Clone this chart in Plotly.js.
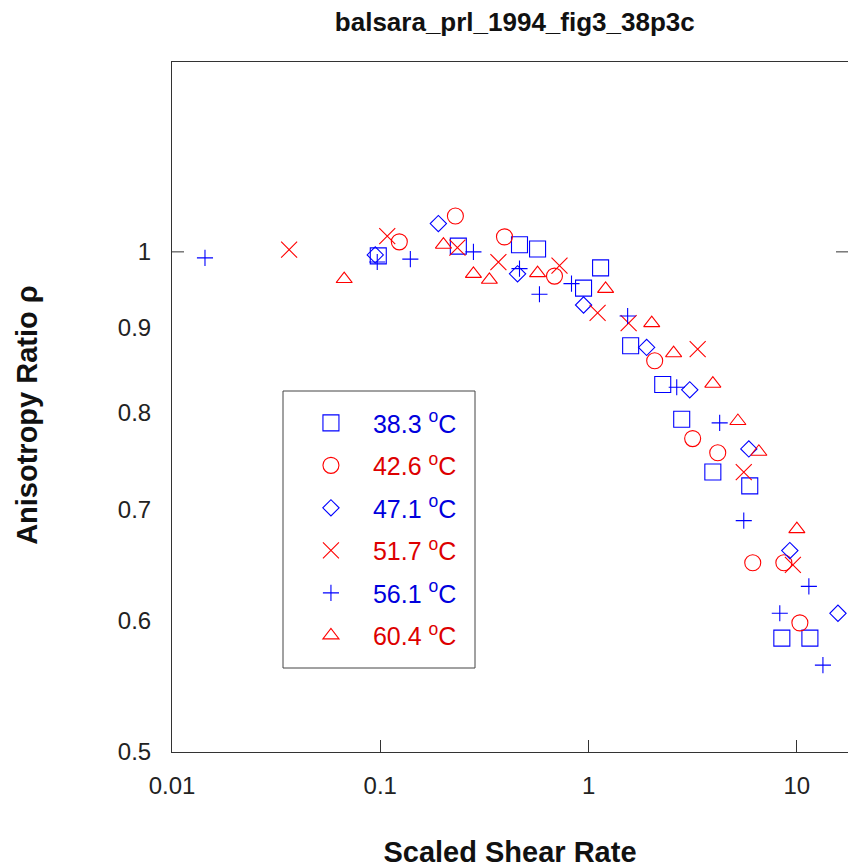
<!DOCTYPE html>
<html>
<head>
<meta charset="utf-8">
<script src="https://cdn.plot.ly/plotly-3.0.1.min.js"></script>
<style>html,body{margin:0;padding:0;background:#fff;}#chart{width:853px;height:868px;}</style>
</head>
<body>
<div id="chart"></div>
<script>
// 38.3 C (squares, blue)
const sqX = [0.0978, 0.237, 0.466, 0.569, 1.142, 0.946, 1.592, 2.27, 2.80, 3.95, 5.94, 8.47, 11.55];
const sqY = [0.9945, 1.008, 1.010, 1.004, 0.978, 0.951, 0.878, 0.832, 0.793, 0.737, 0.723, 0.5855, 0.5855];
// 42.6 C (circles, red)
const ciX = [0.1234, 0.2294, 0.3947, 0.686, 2.077, 3.16, 4.17, 6.14, 8.66, 10.34];
const ciY = [1.014, 1.051, 1.021, 0.967, 0.860, 0.772, 0.757, 0.650, 0.650, 0.598];
// 47.1 C (diamonds, blue)
const diX = [0.0946, 0.190, 0.456, 0.946, 1.90, 3.06, 5.88, 9.25, 15.75];
const diY = [0.9958, 1.040, 0.970, 0.929, 0.876, 0.826, 0.761, 0.661, 0.606];
// 51.7 C (crosses x, red)
const xxX = [0.0365, 0.108, 0.2346, 0.369, 0.725, 1.105, 1.557, 3.34, 5.56, 9.57];
const xxY = [1.003, 1.022, 1.006, 0.986, 0.981, 0.919, 0.906, 0.874, 0.737, 0.648];
// 56.1 C (plus, blue)
const plX = [0.0144, 0.0967, 0.1394, 0.280, 0.466, 0.581, 0.828, 1.54, 2.65, 4.26, 5.56, 11.42, 8.28, 13.34];
const plY = [0.9917, 0.986, 0.990, 1.000, 0.977, 0.943, 0.957, 0.915, 0.829, 0.789, 0.689, 0.629, 0.606, 0.564];
// 60.4 C (triangles, red)
const trX = [0.0671, 0.201, 0.280, 0.334, 0.569, 1.207, 2.01, 2.56, 3.95, 5.21, 6.57, 10.0];
const trY = [0.963, 1.010, 0.970, 0.962, 0.971, 0.950, 0.906, 0.869, 0.833, 0.791, 0.758, 0.681];

const names = ['38.3', '42.6', '47.1', '51.7', '56.1', '60.4'];
const yTicks = [0.5, 0.6, 0.7, 0.8, 0.9, 1];
const xTicks = [0.01, 0.1, 1, 10];
const xTickText = ['0.01', '0.1', '1', '10'];

const BLUE = '#0000ff', RED = '#ff0000';
const series = [
  {x: sqX, y: sqY, sym: 'square-open', size: 16, c: BLUE},
  {x: ciX, y: ciY, sym: 'circle-open', size: 16, c: RED},
  {x: diX, y: diY, sym: 'diamond-open', size: 12.5, c: BLUE},
  {x: xxX, y: xxY, sym: 'x-thin-open', size: 16, c: RED},
  {x: plX, y: plY, sym: 'cross-thin-open', size: 11.5, c: BLUE},
  {x: trX, y: trY, sym: 'triangle-up-open', size: 14, c: RED}
];

const traces = series.map((s, i) => ({
  type: 'scatter', mode: 'markers', x: s.x, y: s.y,
  name: '<span style="color:' + (s.c === BLUE ? '#0000dd' : '#dd0000') + '">' + names[i] + ' <sup>o</sup>C</span>',
  legendgroup: 'g' + i,
  marker: {symbol: s.sym, size: s.size, color: s.c, line: {color: s.c, width: 1.1}},
  cliponaxis: false
}));

const FONT = 'Liberation Sans, Arial, sans-serif';
const tickFrac = 12 / 676;
const layout = {
  width: 853, height: 868,
  margin: {l: 172, r: 5, t: 62, b: 116},
  paper_bgcolor: '#fff', plot_bgcolor: '#fff',
  font: {family: FONT, size: 24, color: '#222'},
  title: {text: '<b>balsara_prl_1994_fig3_38p3c</b>', font: {family: FONT, size: 26, color: '#111'},
          x: 0.6035, xanchor: 'center', y: 0.975, yanchor: 'middle'},
  showlegend: true,
  legend: {x: 0.173, y: 0.510, xanchor: 'left', yanchor: 'top',
           borderwidth: 0, bgcolor: 'rgba(255,255,255,0)',
           font: {family: FONT, size: 25}, itemwidth: 74, tracegroupgap: 7,
           itemclick: false},
  xaxis: {type: 'log', range: [-2, Math.log10(17.6)], tickvals: xTicks, ticktext: xTickText,
          ticks: 'inside', ticklen: 12, tickcolor: '#333', tickwidth: 1,
          showline: true, linecolor: '#333', linewidth: 1, mirror: true,
          showgrid: false, zeroline: false, ticklabelstandoff: 12,
          tickfont: {family: FONT, size: 24, color: '#222'},
          title: {text: '<b>Scaled Shear Rate</b>', font: {family: FONT, size: 29, color: '#111'}, standoff: 45}},
  yaxis: {type: 'log', range: [Math.log10(0.5), Math.log10(1.301)], tickvals: yTicks,
          ticktext: yTicks.map(String), ticks: '', showline: true, linecolor: '#333', linewidth: 1,
          mirror: false, showgrid: false, zeroline: false, ticklabelstandoff: 15,
          tickfont: {family: FONT, size: 24, color: '#222'},
          title: {text: '<b>Anisotropy Ratio ρ</b>&nbsp;&nbsp;', font: {family: FONT, size: 29, color: '#111'}, standoff: 71}},
  shapes: [
    {type: 'line', xref: 'paper', yref: 'y', x0: 0, x1: tickFrac, y0: 1, y1: 1, line: {color: '#333', width: 1}},
    {type: 'line', xref: 'paper', yref: 'y', x0: 1 - tickFrac, x1: 1, y0: 1, y1: 1, line: {color: '#333', width: 1}},
    {type: 'rect', xref: 'paper', yref: 'paper', x0: (283 - 172) / 676, x1: (475 - 172) / 676,
     y0: (752 - 668) / 690, y1: (752 - 391) / 690, line: {color: '#444', width: 1}, fillcolor: 'rgba(0,0,0,0)'}
  ]
};

Plotly.newPlot('chart', traces, layout, {displayModeBar: false, staticPlot: true});
</script>
</body>
</html>
